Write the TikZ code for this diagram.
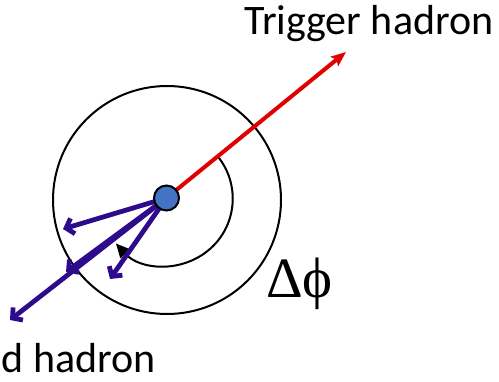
\documentclass[tikz,border=0pt]{standalone}
\usepackage{fontspec}
\setmainfont{Carlito}
\newfontfamily\symbfont{Liberation Serif}
\usetikzlibrary{arrows.meta,positioning}
\definecolor{hadred}{HTML}{E00000}
\definecolor{hadblue}{HTML}{2E0B8C}
\definecolor{hadfill}{HTML}{4472C4}

\begin{document}
\begin{tikzpicture}[x=1pt,y=1pt, every node/.style={inner sep=0pt}]
\tikzset{assoc/.style={-{Straight Barb[length=7pt,width=16pt]},line width=4.8pt,hadblue},
  trigarrow/.style={-{Stealth[length=15pt,width=12pt,inset=3pt]},line width=4pt,hadred},
  label/.style={font=\fontsize{42}{44}\selectfont}}
\useasboundingbox (0,0) rectangle (499,381);
\coordinate (vtx) at (166.5,183);
\coordinate (trig) at (346,329);
\coordinate (as1) at (63,152);
\coordinate (as2) at (10,61);
\coordinate (as3) at (66,109);
\coordinate (as4) at (110,102);
% rings
\draw[line width=2pt] (167,181) circle (114);
\draw[-{Triangle[length=14pt,width=13pt]},line width=2pt] ([shift={(40:66)}]vtx) arc[start angle=40,end angle=-138,radius=67];
% tracks
\draw[trigarrow] (vtx) -- (trig);
\draw[assoc] (vtx) -- (as1);
\draw[assoc] (vtx) -- (as2);
\draw[assoc] (vtx) -- (as3);
\draw[assoc] (vtx) -- (as4);
\node[draw,circle,fill=hadfill,line width=2pt,minimum size=25pt] (hit) at (vtx) {};
% labels
\node[label,anchor=base west] (trigtext) at (244,346) {Trigger hadron};
\node[label,anchor=base east] (assoctext) at (156,9) {d hadron};
\node[anchor=base west,font=\symbfont\fontsize{57}{57}\selectfont] (dphi) at (266,83) {Δϕ};
\end{tikzpicture}
\end{document}
